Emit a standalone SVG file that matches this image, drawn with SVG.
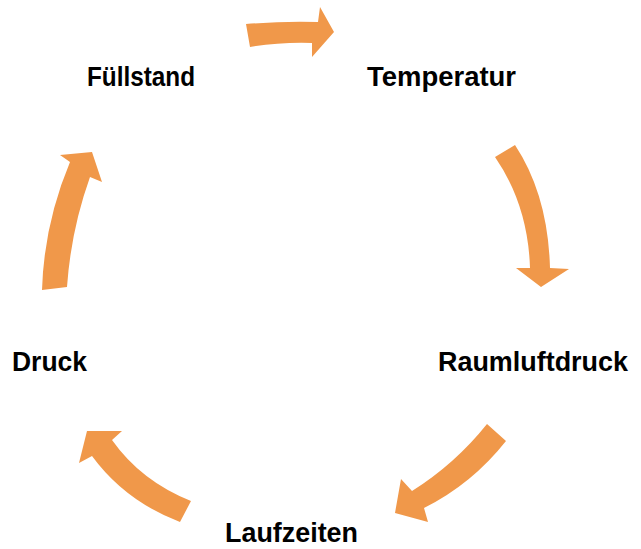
<svg xmlns="http://www.w3.org/2000/svg" width="641" height="549" viewBox="0 0 641 549">
  <style>
    .lbl { font-family: "Liberation Sans", Arial, sans-serif; font-weight: bold; font-size: 27px; fill: #000; }
    .arr { fill: #F0984A; stroke: none; }
  </style>
  <rect width="641" height="549" fill="#fff"/>
  <g id="connectors">
    <path class="arr" d="M246,24 Q282,21 318,22 L320,7 L334,32 L312,57 L312,43 Q280,42 250,47 Z"/>
    <path class="arr" d="M495,157 L515,145 Q548,195 550,268 L569,269 L541,287 L516,268 L530,268 Q528,205 495,157 Z"/>
    <path class="arr" d="M487,424 L506,441 Q472,484 424,508 L428,522 L395,513 L401,479 L412,491 Q455,464 487,424 Z"/>
    <path class="arr" d="M191,501 Q141,481 112,440 L122,431 L87,431 L79,463 L92,456 Q125,501 180,522 Z"/>
    <path class="arr" d="M42,290 Q44,224 70,162 L60,155 L92,152 L102,182 L90,177 Q71,230 67,287 Z"/>
  </g>
  <g id="node-fuellstand"><text class="lbl" x="87" y="86" textLength="108" lengthAdjust="spacingAndGlyphs">Füllstand</text></g>
  <g id="node-temperatur"><text class="lbl" x="367" y="86" textLength="149" lengthAdjust="spacingAndGlyphs">Temperatur</text></g>
  <g id="node-raumluftdruck"><text class="lbl" x="438" y="371" textLength="190" lengthAdjust="spacingAndGlyphs">Raumluftdruck</text></g>
  <g id="node-laufzeiten"><text class="lbl" x="225" y="542" textLength="133" lengthAdjust="spacingAndGlyphs">Laufzeiten</text></g>
  <g id="node-druck"><text class="lbl" x="12" y="371" textLength="75" lengthAdjust="spacingAndGlyphs">Druck</text></g>
</svg>
